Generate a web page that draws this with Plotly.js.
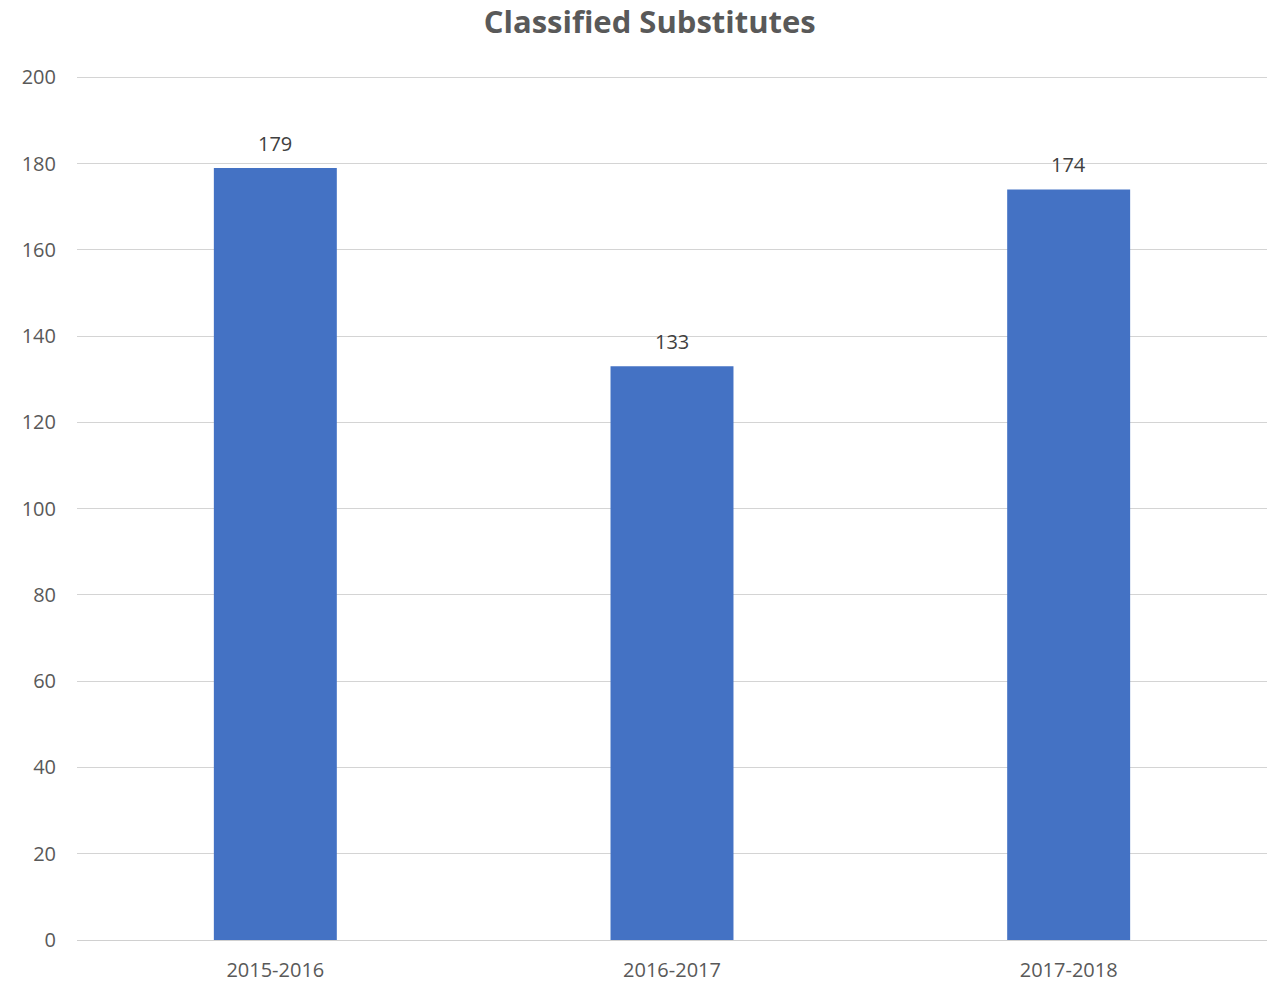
<!DOCTYPE html>
<html>
<head>
<meta charset="utf-8">
<script src="https://cdn.plot.ly/plotly-3.0.1.min.js"></script>
<style>html,body{margin:0;padding:0;background:#fff;}#chart{width:1269px;height:984px;}</style>
</head>
<body>
<div id="chart"></div>
<script>
const categories = ["2015-2016", "2016-2017", "2017-2018"];
const values = [179, 133, 174];
const yTicks = [0, 20, 40, 60, 80, 100, 120, 140, 160, 180, 200];

const trace = {
  type: "bar",
  x: categories,
  y: values,
  marker: {color: "#4472C4"},
  hoverinfo: "none"
};

const annotations = categories.map((c, i) => ({
  x: c, y: values[i], text: String(values[i]),
  showarrow: false, yanchor: "bottom", yshift: 9,
  font: {family: "Open Sans, sans-serif", size: 20, color: "#404040"}
}));

const layout = {
  width: 1269, height: 984,
  margin: {l: 77, r: 2, t: 73, b: 44},
  paper_bgcolor: "#fff", plot_bgcolor: "#fff",
  title: {text: "<b>Classified Substitutes</b>", x: 0.512, xanchor: "center", y: 0.978, yanchor: "middle",
    font: {family: "Open Sans, sans-serif", size: 31, color: "#595959"}},
  bargap: 0.69,
  showlegend: false,
  xaxis: {
    type: "category", showgrid: false, zeroline: false, showline: true, linecolor: "#d0d0d0", linewidth: 1,
    ticks: "", ticklabelstandoff: 12,
    tickfont: {family: "Open Sans, sans-serif", size: 20, color: "#595959"}
  },
  yaxis: {
    range: [0, 201], tickvals: yTicks, ticktext: yTicks.map(String),
    showgrid: true, gridcolor: "#d4d4d4", gridwidth: 1, zeroline: false, showline: false,
    ticks: "", ticklabelstandoff: 20,
    tickfont: {family: "Open Sans, sans-serif", size: 20, color: "#595959"}
  },
  annotations: annotations
};

Plotly.newPlot("chart", [trace], layout, {displayModeBar: false, staticPlot: true});
</script>
</body>
</html>
